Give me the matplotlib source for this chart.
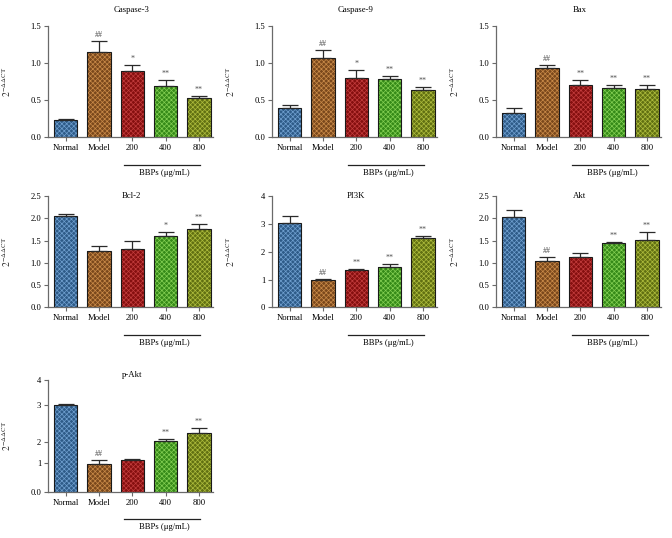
import numpy as np
import matplotlib
matplotlib.use('Agg')
import matplotlib.pyplot as plt
from matplotlib.transforms import blended_transform_factory

plt.rcParams['font.family'] = ['Liberation Serif', 'DejaVu Serif']
plt.rcParams['mathtext.fontset'] = 'stix'
plt.rcParams['hatch.linewidth'] = 0.5

groups = ['Normal', 'Model', '200', '400', '800']

caspase3 = [0.24, 1.15, 0.89, 0.69, 0.53]
caspase3_err = [0.01, 0.15, 0.08, 0.08, 0.03]
caspase3_sig = ['', '##', '*', '**', '**']

caspase9 = [0.39, 1.07, 0.80, 0.78, 0.64]
caspase9_err = [0.05, 0.11, 0.11, 0.05, 0.04]
caspase9_sig = ['', '##', '*', '**', '**']

bax = [0.33, 0.94, 0.71, 0.66, 0.65]
bax_err = [0.07, 0.04, 0.06, 0.04, 0.06]
bax_sig = ['', '##', '**', '**', '**']

bcl2 = [2.04, 1.27, 1.30, 1.60, 1.75]
bcl2_err = [0.06, 0.11, 0.18, 0.10, 0.12]
bcl2_sig = ['', '', '', '*', '**']

pi3k = [3.02, 0.99, 1.33, 1.44, 2.48]
pi3k_err = [0.26, 0.04, 0.04, 0.11, 0.10]
pi3k_sig = ['', '##', '**', '**', '**']

akt = [2.03, 1.04, 1.12, 1.44, 1.51]
akt_err = [0.16, 0.08, 0.10, 0.02, 0.19]
akt_sig = ['', '##', '', '**', '**']

pakt = [3.00, 0.99, 1.15, 2.03, 2.25]
pakt_err = [0.03, 0.16, 0.03, 0.05, 0.14]
pakt_sig = ['', '##', '', '**', '**']

# irregular y-axis of the p-Akt panel (tick value -> relative axis position)
pakt_tick_vals = [0, 1, 2, 3, 4]
pakt_tick_pos = [0, 28.3, 49.4, 86.0, 110.7]
pakt_tick_labels = ['0.0', '1', '2', '3', '4']

base_colors = ['#2e5b88', '#7a481c', '#850f0f', '#358a18', '#617012']
dot_colors = ['#6f9fcf', '#c98a48', '#c23c3c', '#82ce52', '#adbb3c']

W, H = 672, 538
fig = plt.figure(figsize=(W / 100, H / 100), dpi=100)

col_left = [48.3, 272.3, 496.3]
row_top = [26.0, 196.0, 380.3]
ax_w, ax_h = 165.0, 111.4
title_y = [10, 196, 375]

panels = [
    ('Caspase-3', caspase3, caspase3_err, caspase3_sig, (0, 1.5), [0, 0.5, 1.0, 1.5], ['0.0', '0.5', '1.0', '1.5']),
    ('Caspase-9', caspase9, caspase9_err, caspase9_sig, (0, 1.5), [0, 0.5, 1.0, 1.5], ['0.0', '0.5', '1.0', '1.5']),
    ('Bax', bax, bax_err, bax_sig, (0, 1.5), [0, 0.5, 1.0, 1.5], ['0.0', '0.5', '1.0', '1.5']),
    ('Bcl-2', bcl2, bcl2_err, bcl2_sig, (0, 2.5), [0, 0.5, 1.0, 1.5, 2.0, 2.5], ['0.0', '0.5', '1.0', '1.5', '2.0', '2.5']),
    ('PI3K', pi3k, pi3k_err, pi3k_sig, (0, 4), [0, 1, 2, 3, 4], ['0', '1', '2', '3', '4']),
    ('Akt', akt, akt_err, akt_sig, (0, 2.5), [0, 0.5, 1.0, 1.5, 2.0, 2.5], ['0.0', '0.5', '1.0', '1.5', '2.0', '2.5']),
    ('p-Akt', pakt, pakt_err, pakt_sig, (0, 4), pakt_tick_vals, pakt_tick_labels),
]

axis_col = '#6a6a6a'
x = np.arange(len(groups))

for i, (title, vals, errs, sigs, ylim, yt, ytl) in enumerate(panels):
    r, c = divmod(i, 3)
    left = col_left[c] / W
    bottom = 1 - (row_top[r] + ax_h) / H
    ax = fig.add_axes([left, bottom, ax_w / W, ax_h / H])

    if title == 'p-Akt':
        tv = np.array(pakt_tick_vals, float)
        tp = np.array(pakt_tick_pos, float)
        fwd = lambda v, tv=tv, tp=tp: np.interp(v, tv, tp)
        inv = lambda p, tv=tv, tp=tp: np.interp(p, tp, tv)
        ax.set_yscale('function', functions=(fwd, inv))

    vals = np.array(vals)
    errs = np.array(errs)
    ax.bar(x, vals, width=0.7, color=base_colors, edgecolor='none', zorder=2)
    for xi, v, dc in zip(x, vals, dot_colors):
        ax.bar(xi, v, width=0.7, color='none', edgecolor=dc, hatch='xxxxxxx',
               linewidth=0, zorder=3)
    ax.bar(x, vals, width=0.7, color='none', edgecolor='#1a1a1a', linewidth=0.8, zorder=4)
    ax.errorbar(x, vals, yerr=[np.zeros_like(errs), errs], fmt='none', ecolor='#2a2a2a',
                elinewidth=0.9, capsize=5.5, capthick=0.9, zorder=5)
    for xi, v, e, s in zip(x, vals, errs, sigs):
        if s:
            ax.annotate(s, (xi, v + e), xytext=(0, 1.5), textcoords='offset points',
                        ha='center', va='bottom', fontsize=5.8, color='#505050')

    ax.set_xlim(-0.52, 4.43)
    ax.set_ylim(*ylim)
    ax.set_yticks(yt)
    ax.set_yticklabels(ytl)
    ax.set_xticks(x)
    ax.set_xticklabels(groups)
    ax.minorticks_off()
    for sp in ['top', 'right']:
        ax.spines[sp].set_visible(False)
    for sp in ['left', 'bottom']:
        ax.spines[sp].set_color(axis_col)
        ax.spines[sp].set_linewidth(0.9)
    ax.tick_params(axis='both', direction='out', length=3, width=0.8, color=axis_col,
                   labelsize=6.2, pad=2)

    ax.set_ylabel(r'$2^{-\Delta\Delta \mathrm{CT}}$', fontsize=7, color='#333333')
    ax.yaxis.set_label_coords(-35.3 / ax_w, 0.5)

    trans = blended_transform_factory(ax.transData, ax.transAxes)
    ax.plot([1.74, 4.02], [-27.5 / ax_h, -27.5 / ax_h], color='#222222', lw=0.9,
            transform=trans, clip_on=False)
    ax.text(2.96, -35.5 / ax_h, 'BBPs (\u03bcg/mL)', transform=trans, ha='center',
            va='center', fontsize=6.2)

    fig.text((col_left[c] + ax_w / 2 + 1) / W, 1 - title_y[r] / H, title,
             ha='center', va='center', fontsize=6.3)

fig.savefig('out.png', dpi=100, facecolor='white')
